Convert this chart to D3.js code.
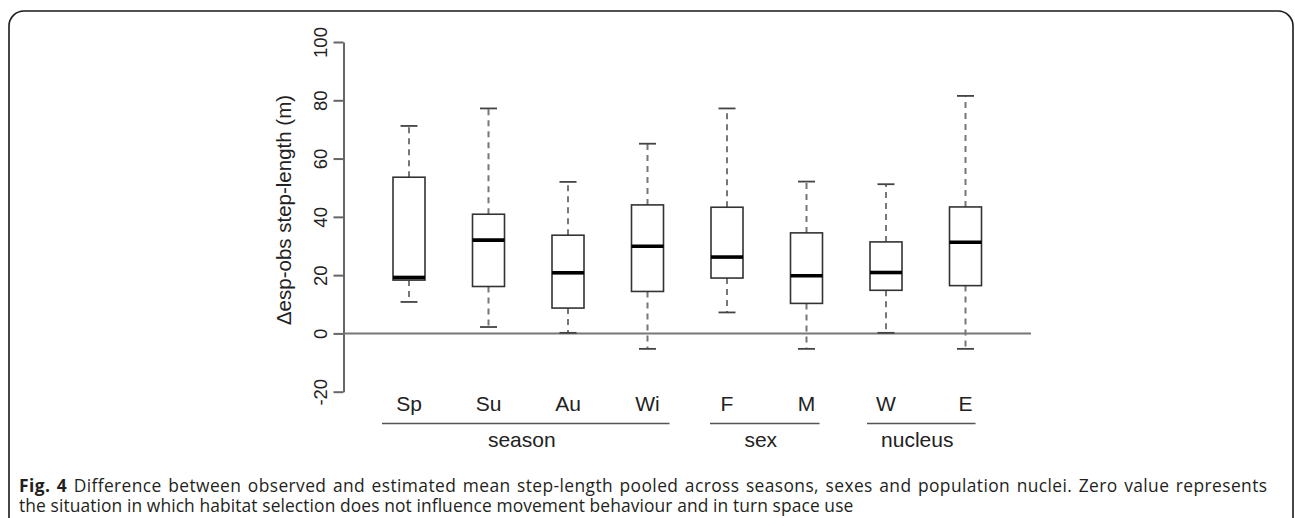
<!DOCTYPE html>
<html><head><meta charset="utf-8">
<script src="https://cdnjs.cloudflare.com/ajax/libs/d3/7.8.5/d3.min.js"></script>
<style>html,body{margin:0;padding:0;background:#fff;} svg{display:block;}</style>
</head><body>
<svg id="c" width="1295" height="518"></svg>
<script>
// ---- data ----
const categories = ["Sp","Su","Au","Wi","F","M","W","E"];
const whiskerLow  = [10.8, 2.2, 0.2, -5.3, 7.2, -5.3, 0.2, -5.3];
const q1          = [18.3, 16.1, 8.7, 14.4, 19.0, 10.3, 14.8, 16.4];
const medians     = [19.2, 32.0, 20.8, 29.9, 26.2, 19.8, 20.9, 31.3];
const q3          = [53.6, 40.9, 33.7, 44.1, 43.3, 34.5, 31.4, 43.4];
const whiskerHigh = [71.2, 77.2, 52.0, 65.1, 77.2, 52.1, 51.2, 81.5];
const yTicks = [-20, 0, 20, 40, 60, 80, 100];
const groupNames = ["season","sex","nucleus"];
const groupFirst = ["Sp","F","W"];
const groupLast  = ["Wi","M","E"];
const yTitle = "\u0394esp-obs step-length (m)";
const captionBold = "Fig. 4";
const captionLine1 = " Difference between observed and estimated mean step-length pooled across seasons, sexes and population nuclei. Zero value represents";
const captionLine2 = "the situation in which habitat selection does not influence movement behaviour and in turn space use";

// ---- layout ----
const svg = d3.select("#c");
const axisX = 343.5;
const x = d3.scalePoint().domain(categories).range([409, 965.5]);
const y = d3.scaleLinear().domain([-20, 100]).range([391.7, 42]);
const boxW = 32, capW = 16;
const font = "'Liberation Sans', Arial, Helvetica, sans-serif";

// frame
svg.append("rect").attr("x", 9).attr("y", 11).attr("width", 1284).attr("height", 540)
  .attr("rx", 15).attr("ry", 15).attr("fill", "none").attr("stroke", "#1a1a1a").attr("stroke-width", 1.6);

// y axis
const yAxis = d3.axisLeft(y).tickValues(yTicks).tickSize(10).tickSizeOuter(0).tickFormat(d => String(d));
const ga = svg.append("g").attr("transform", `translate(${axisX},0)`).call(yAxis);
ga.select(".domain").attr("stroke", "#666").attr("stroke-width", 2);
ga.selectAll(".tick line").attr("stroke", "#666").attr("stroke-width", 2);
ga.selectAll(".tick text")
  .attr("font-family", font).attr("font-size", 18.5).attr("fill", "#222")
  .attr("x", 0).attr("dy", null)
  .attr("text-anchor", "middle")
  .attr("transform", "translate(-23,0) rotate(-90)")
  .attr("dominant-baseline", "central");

svg.append("text").attr("transform", `translate(283,210) rotate(-90)`)
  .attr("text-anchor", "middle").attr("dominant-baseline", "central")
  .attr("font-family", font).attr("font-size", 20.5).attr("fill", "#222").text(yTitle);

// zero line
svg.append("line").attr("x1", axisX).attr("x2", 1031).attr("y1", y(0)).attr("y2", y(0))
  .attr("stroke", "#777").attr("stroke-width", 2);

// boxes
const data = categories.map((c, i) => ({c, lo: whiskerLow[i], q1: q1[i], med: medians[i], q3: q3[i], hi: whiskerHigh[i]}));
const g = svg.append("g").selectAll("g").data(data).join("g")
  .attr("transform", d => `translate(${x(d.c)},0)`);
g.append("line").attr("y1", d => y(d.q3)).attr("y2", d => y(d.hi))
  .attr("stroke", "#777").attr("stroke-width", 2).attr("stroke-dasharray", "6,5");
g.append("line").attr("y1", d => y(d.q1)).attr("y2", d => y(d.lo))
  .attr("stroke", "#777").attr("stroke-width", 2).attr("stroke-dasharray", "6,5");
g.append("line").attr("x1", -capW/2 - 0.5).attr("x2", capW/2 + 0.5).attr("y1", d => y(d.hi)).attr("y2", d => y(d.hi))
  .attr("stroke", "#444").attr("stroke-width", 1.8);
g.append("line").attr("x1", -capW/2 - 0.5).attr("x2", capW/2 + 0.5).attr("y1", d => y(d.lo)).attr("y2", d => y(d.lo))
  .attr("stroke", "#444").attr("stroke-width", 1.8);
g.append("rect").attr("x", -boxW/2).attr("width", boxW)
  .attr("y", d => y(d.q3)).attr("height", d => y(d.q1) - y(d.q3))
  .attr("fill", "#fff").attr("stroke", "#333").attr("stroke-width", 1.6);
g.append("line").attr("x1", -boxW/2).attr("x2", boxW/2).attr("y1", d => y(d.med)).attr("y2", d => y(d.med))
  .attr("stroke", "#000").attr("stroke-width", 3.6);

// category labels
svg.append("g").selectAll("text").data(categories).join("text")
  .attr("x", d => x(d)).attr("y", 411).attr("text-anchor", "middle")
  .attr("font-family", font).attr("font-size", 21).attr("fill", "#222").text(d => d);

// group lines + labels
const padL = [27, 17, 19], padR = [22, 13, 10];
groupNames.forEach((n, i) => {
  const x1 = x(groupFirst[i]) - padL[i], x2 = x(groupLast[i]) + padR[i];
  svg.append("line").attr("x1", x1).attr("x2", x2).attr("y1", 423.5).attr("y2", 423.5)
    .attr("stroke", "#555").attr("stroke-width", 1.5);
  svg.append("text").attr("x", (x1 + x2) / 2 - 4).attr("y", 447).attr("text-anchor", "middle")
    .attr("font-family", font).attr("font-size", 21).attr("fill", "#222").text(n);
});

// caption: one text element, two lines (first line justified)
const cap = svg.append("text").attr("font-family", "'Open Sans', 'Noto Sans', sans-serif")
  .attr("font-size", 17.4).attr("fill", "#231f20");
const l1 = cap.append("tspan").attr("x", 19).attr("y", 491.5)
  .attr("letter-spacing", 0.4).attr("word-spacing", 1.6);
l1.append("tspan").attr("font-weight", "bold").text(captionBold);
l1.append("tspan").text(captionLine1);
cap.append("tspan").attr("x", 19).attr("y", 511.5).attr("letter-spacing", 0.1).text(captionLine2);
</script>
</body></html>
